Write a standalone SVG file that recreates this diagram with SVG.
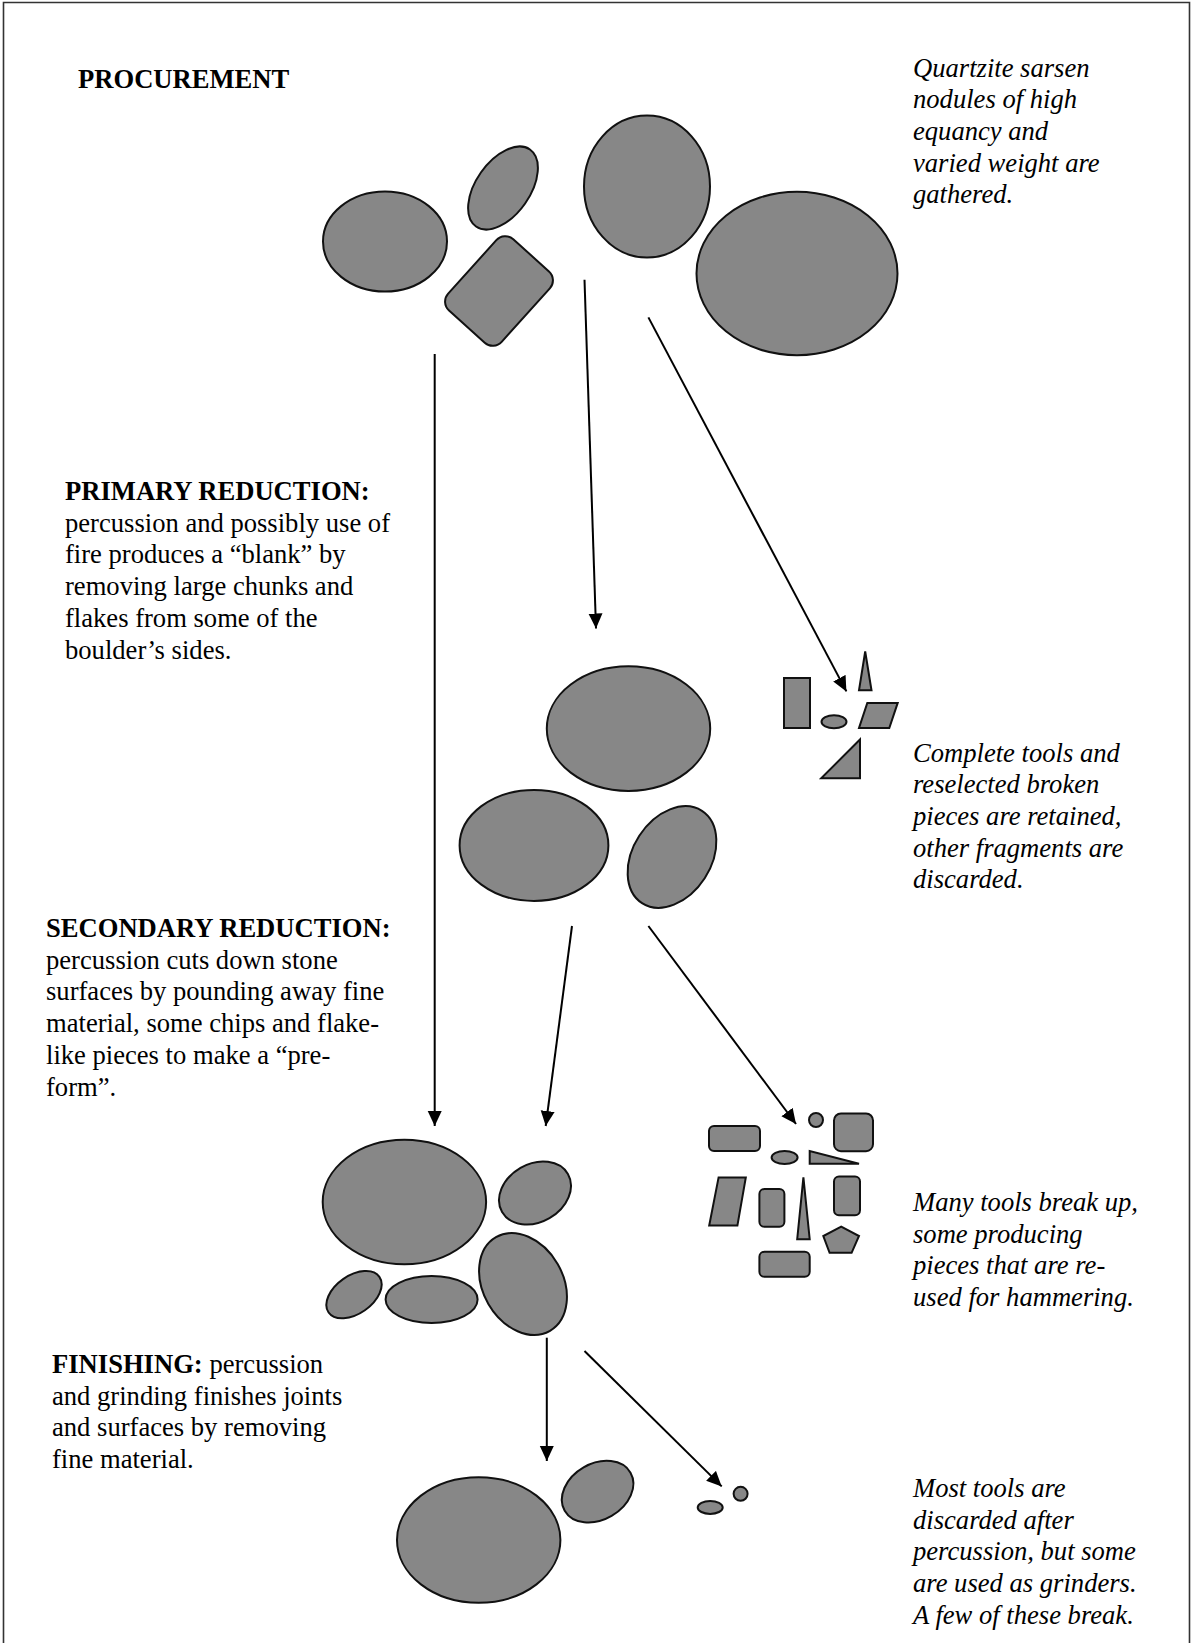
<svg xmlns="http://www.w3.org/2000/svg" width="1192" height="1643" viewBox="0 0 1192 1643">
  <style>
    .stone { fill: #878787; stroke: #111; stroke-width: 2; }
    .flow { fill: none; stroke: #000; stroke-width: 2; marker-end: url(#head); }
    .txt { font-family: "Liberation Serif", "Times New Roman", serif; font-size: 26.6px; fill: #000; }
    .note { font-style: italic; }
    .head { font-weight: bold; }
  </style>
  <defs>
    <marker id="head" markerUnits="userSpaceOnUse" markerWidth="18" markerHeight="16" refX="15" refY="7" orient="auto">
      <path d="M0,0 L15,7 L0,14 Z" fill="#000"/>
    </marker>
  </defs>

  <rect width="1192" height="1643" fill="#fff"/>
  <!-- page frame -->
  <path d="M3.5,1643 V2.5 H1189.5 V1643" fill="none" stroke="#333" stroke-width="1.6"/>

  <!-- stage labels -->
  <g id="label-procurement">
    <text class="txt head" x="78" y="88">PROCUREMENT</text>
  </g>
  <g id="label-primary">
    <text class="txt" x="65">
      <tspan class="head" x="65" y="500">PRIMARY REDUCTION:</tspan>
      <tspan x="65" y="531.7">percussion and possibly use of</tspan>
      <tspan x="65" y="563.4">fire produces a “blank” by</tspan>
      <tspan x="65" y="595.1">removing large chunks and</tspan>
      <tspan x="65" y="626.8">flakes from some of the</tspan>
      <tspan x="65" y="658.5">boulder’s sides.</tspan>
    </text>
  </g>
  <g id="label-secondary">
    <text class="txt" x="46">
      <tspan class="head" x="46" y="937">SECONDARY REDUCTION:</tspan>
      <tspan x="46" y="968.7">percussion cuts down stone</tspan>
      <tspan x="46" y="1000.4">surfaces by pounding away fine</tspan>
      <tspan x="46" y="1032.1">material, some chips and flake-</tspan>
      <tspan x="46" y="1063.8">like pieces to make a “pre-</tspan>
      <tspan x="46" y="1095.5">form”.</tspan>
    </text>
  </g>
  <g id="label-finishing">
    <text class="txt" x="52">
      <tspan x="52" y="1373"><tspan class="head">FINISHING:</tspan> percussion</tspan>
      <tspan x="52" y="1404.7">and grinding finishes joints</tspan>
      <tspan x="52" y="1436.4">and surfaces by removing</tspan>
      <tspan x="52" y="1468.1">fine material.</tspan>
    </text>
  </g>

  <!-- notes -->
  <g id="note-procurement">
    <text class="txt note">
      <tspan x="913" y="76.5">Quartzite sarsen</tspan>
      <tspan x="913" y="108.2">nodules of high</tspan>
      <tspan x="913" y="139.9">equancy and</tspan>
      <tspan x="913" y="171.6">varied weight are</tspan>
      <tspan x="913" y="203.3">gathered.</tspan>
    </text>
  </g>
  <g id="note-primary">
    <text class="txt note">
      <tspan x="913" y="761.5">Complete tools and</tspan>
      <tspan x="913" y="793.2">reselected broken</tspan>
      <tspan x="913" y="824.9">pieces are retained,</tspan>
      <tspan x="913" y="856.6">other fragments are</tspan>
      <tspan x="913" y="888.3">discarded.</tspan>
    </text>
  </g>
  <g id="note-secondary">
    <text class="txt note">
      <tspan x="913" y="1211">Many tools break up,</tspan>
      <tspan x="913" y="1242.7">some producing</tspan>
      <tspan x="913" y="1274.4">pieces that are re-</tspan>
      <tspan x="913" y="1306.1">used for hammering.</tspan>
    </text>
  </g>
  <g id="note-finishing">
    <text class="txt note">
      <tspan x="913" y="1497">Most tools are</tspan>
      <tspan x="913" y="1528.7">discarded after</tspan>
      <tspan x="913" y="1560.4">percussion, but some</tspan>
      <tspan x="913" y="1592.1">are used as grinders.</tspan>
      <tspan x="913" y="1623.8">A few of these break.</tspan>
    </text>
  </g>

  <!-- gathered nodules -->
  <g id="nodules">
    <ellipse class="stone" cx="385" cy="241.5" rx="62" ry="50"/>
    <ellipse class="stone" cx="503" cy="188" rx="27" ry="47" transform="rotate(35 503 188)"/>
    <rect class="stone" x="-36" y="-48" width="72" height="96" rx="12" transform="translate(499 291) rotate(42)"/>
    <ellipse class="stone" cx="647" cy="186.5" rx="63" ry="71"/>
    <ellipse class="stone" cx="797" cy="273.5" rx="100.5" ry="81.7"/>
  </g>

  <!-- blanks -->
  <g id="blanks">
    <ellipse class="stone" cx="628.5" cy="728.6" rx="81.7" ry="62.3"/>
    <ellipse class="stone" cx="534" cy="845.4" rx="74.4" ry="55.5"/>
    <ellipse class="stone" cx="672" cy="857" rx="39" ry="55" transform="rotate(33 672 857)"/>
  </g>

  <!-- primary fragments -->
  <g id="primary-fragments">
    <rect class="stone" x="784" y="678" width="26" height="50"/>
    <ellipse class="stone" cx="834" cy="721.7" rx="12.5" ry="6.5"/>
    <polygon class="stone" points="865.2,651.5 871.5,690.3 859,690.3"/>
    <polygon class="stone" points="867.3,702.9 897.7,702.9 889.3,728 859,728"/>
    <polygon class="stone" points="821.2,778.3 860,778.3 860,739.5"/>
  </g>

  <!-- preforms -->
  <g id="preforms">
    <ellipse class="stone" cx="404.4" cy="1202" rx="81.7" ry="62.3"/>
    <ellipse class="stone" cx="535" cy="1193" rx="38" ry="29" transform="rotate(-30 535 1193)"/>
    <ellipse class="stone" cx="523" cy="1284" rx="40" ry="54" transform="rotate(-30 523 1284)"/>
    <ellipse class="stone" cx="354" cy="1294.7" rx="31" ry="19" transform="rotate(-35 354 1294.7)"/>
    <ellipse class="stone" cx="431.6" cy="1299.5" rx="46" ry="23.5"/>
  </g>

  <!-- broken hammerstones -->
  <g id="secondary-fragments">
    <rect class="stone" x="709" y="1126" width="51" height="25" rx="5"/>
    <circle class="stone" cx="816" cy="1120" r="7"/>
    <rect class="stone" x="834" y="1113.5" width="39" height="37.7" rx="7"/>
    <ellipse class="stone" cx="784.6" cy="1157.5" rx="13" ry="6.5"/>
    <polygon class="stone" points="809.7,1151 809.7,1163.8 859,1163.8"/>
    <polygon class="stone" points="718.6,1177.4 745.8,1177.4 737.4,1225.6 709.2,1225.6"/>
    <rect class="stone" x="759.4" y="1189" width="25" height="37.7" rx="5"/>
    <polygon class="stone" points="803.4,1177.4 809.7,1239.2 797.2,1239.2"/>
    <rect class="stone" x="834" y="1176.4" width="26" height="38.8" rx="5"/>
    <polygon class="stone" points="841.2,1226.6 859,1236 851.6,1252.8 829.6,1252.8 823.3,1236"/>
    <rect class="stone" x="759.4" y="1251.8" width="50.3" height="25" rx="5"/>
  </g>

  <!-- finished stones -->
  <g id="finished">
    <ellipse class="stone" cx="478.7" cy="1540" rx="81.7" ry="62.8"/>
    <ellipse class="stone" cx="597.6" cy="1491.7" rx="38" ry="28" transform="rotate(-30 597.6 1491.7)"/>
  </g>

  <!-- grinder fragments -->
  <g id="finishing-fragments">
    <ellipse class="stone" cx="710.2" cy="1507.4" rx="12.5" ry="6.5"/>
    <circle class="stone" cx="740.6" cy="1493.8" r="7"/>
  </g>

  <!-- flow arrows -->
  <g id="connectors">
    <line class="flow" x1="434.7" y1="354" x2="434.7" y2="1126"/>
    <line class="flow" x1="584.5" y1="279.7" x2="596" y2="628.5"/>
    <line class="flow" x1="648.4" y1="317.4" x2="846.4" y2="691.4"/>
    <line class="flow" x1="572" y1="926" x2="545.7" y2="1126"/>
    <line class="flow" x1="648.4" y1="926" x2="796" y2="1124"/>
    <line class="flow" x1="546.8" y1="1337.7" x2="546.8" y2="1461"/>
    <line class="flow" x1="584.5" y1="1351" x2="721.7" y2="1486.4"/>
  </g>
</svg>
